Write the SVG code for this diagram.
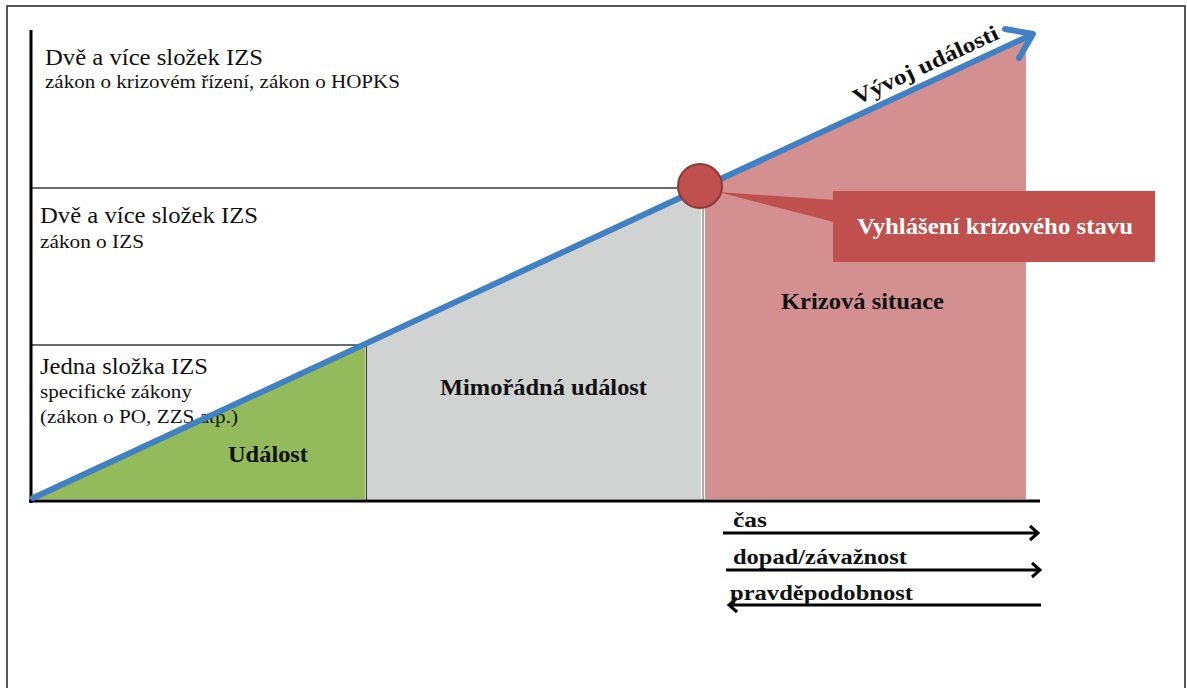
<svg xmlns="http://www.w3.org/2000/svg" width="1187" height="688" viewBox="0 0 1187 688">
<style>
.t{font-family:"Liberation Serif","DejaVu Serif","Times New Roman",serif;fill:#111}
.b{font-weight:bold}
.big{font-size:23px}
.sm{font-size:19.5px}
.ax{stroke:#000;stroke-width:3;fill:none}
.thin{stroke:#3a3a3a;stroke-width:1.5;fill:none}
.arr{stroke:#000;stroke-width:3;fill:none;stroke-linecap:butt}
</style>
<rect x="0" y="0" width="1187" height="688" fill="#fff"/>
<path d="M7,688 V6 H1185 V688" fill="none" stroke="#222" stroke-width="1.5"/>

<g id="zone-udalost">
<polygon points="33,498 365,343.5 365,499 33,499" fill="#93bb5c"/>
<text class="t b" x="228" y="462" font-size="23" textLength="80" lengthAdjust="spacingAndGlyphs">Událost</text>
</g>
<g id="zone-mimoradna">
<polygon points="368,342 701,187 701,499 368,499" fill="#d1d2d2"/>
<text class="t b" x="440" y="395" font-size="23" textLength="207" lengthAdjust="spacingAndGlyphs">Mimořádná událost</text>
</g>
<g id="zone-krizova">
<polygon points="705,185 1026,36 1026,499 705,499" fill="#d49090"/>
<text class="t b" x="781" y="309" font-size="23" textLength="163" lengthAdjust="spacingAndGlyphs">Krizová situace</text>
</g>

<g id="levels">
<line class="thin" x1="31" y1="188" x2="680" y2="188"/>
<line class="thin" x1="31" y1="345" x2="367" y2="345"/>
<line class="thin" x1="366.5" y1="345" x2="366.5" y2="500"/>
<line x1="703" y1="200" x2="703" y2="500" stroke="#555" stroke-width="1"/>
</g>

<g id="level-top">
<text class="t big" x="45" y="65" textLength="218" lengthAdjust="spacingAndGlyphs">Dvě a více složek IZS</text>
<text class="t sm" x="45" y="88" textLength="355" lengthAdjust="spacingAndGlyphs">zákon o krizovém řízení, zákon o HOPKS</text>
</g>
<g id="level-mid">
<text class="t big" x="40" y="223" textLength="218" lengthAdjust="spacingAndGlyphs">Dvě a více složek IZS</text>
<text class="t sm" x="40" y="248" textLength="104" lengthAdjust="spacingAndGlyphs">zákon o IZS</text>
</g>
<g id="level-low">
<text class="t big" x="40" y="374" textLength="168" lengthAdjust="spacingAndGlyphs">Jedna složka IZS</text>
<text class="t sm" x="40" y="398" textLength="152" lengthAdjust="spacingAndGlyphs">specifické zákony</text>
<text class="t sm" x="40" y="423" textLength="198" lengthAdjust="spacingAndGlyphs">(zákon o PO, ZZS atp.)</text>
</g>

<g id="axes">
<line class="ax" x1="31" y1="30" x2="31" y2="503"/>
<line class="ax" x1="29" y1="501" x2="1040" y2="501"/>
</g>

<g id="connectors">
<line x1="33" y1="498" x2="1031" y2="35" stroke="#4080c4" stroke-width="6" stroke-linecap="round"/>
<path d="M1005,29 L1033,34 L1019,58" fill="none" stroke="#4080c4" stroke-width="6" stroke-linecap="round" stroke-linejoin="round"/>
<text class="t b" x="857" y="105" font-size="22" textLength="158" lengthAdjust="spacingAndGlyphs" transform="rotate(-25 857 105)">Vývoj události</text>
</g>

<g id="callout">
<polygon points="718,192 834,200 834,222" fill="#c0504d"/>
<circle cx="700" cy="186" r="22" fill="#c0504d" stroke="#8b3a38" stroke-width="2"/>
<rect x="833" y="191" width="322" height="71" fill="#c0504d"/>
<text class="t b" x="857" y="234" font-size="23" fill="#fff" style="fill:#fff" textLength="276" lengthAdjust="spacingAndGlyphs">Vyhlášení krizového stavu</text>
</g>

<g id="legend">
<line class="arr" x1="723" y1="533" x2="1037" y2="533"/>
<path class="arr" d="M1030,526 L1038,533 L1030,540"/>
<text class="t b" x="733" y="527" font-size="20" textLength="34" lengthAdjust="spacingAndGlyphs">čas</text>
<line class="arr" x1="726" y1="570" x2="1039" y2="570"/>
<path class="arr" d="M1032,563 L1040,570 L1032,577"/>
<text class="t b" x="733" y="564" font-size="20" textLength="174" lengthAdjust="spacingAndGlyphs">dopad/závažnost</text>
<line class="arr" x1="730" y1="605" x2="1041" y2="605"/>
<path class="arr" d="M737,598 L729,605 L737,612"/>
<text class="t b" x="730" y="600" font-size="20" textLength="183" lengthAdjust="spacingAndGlyphs">pravděpodobnost</text>
</g>
</svg>
